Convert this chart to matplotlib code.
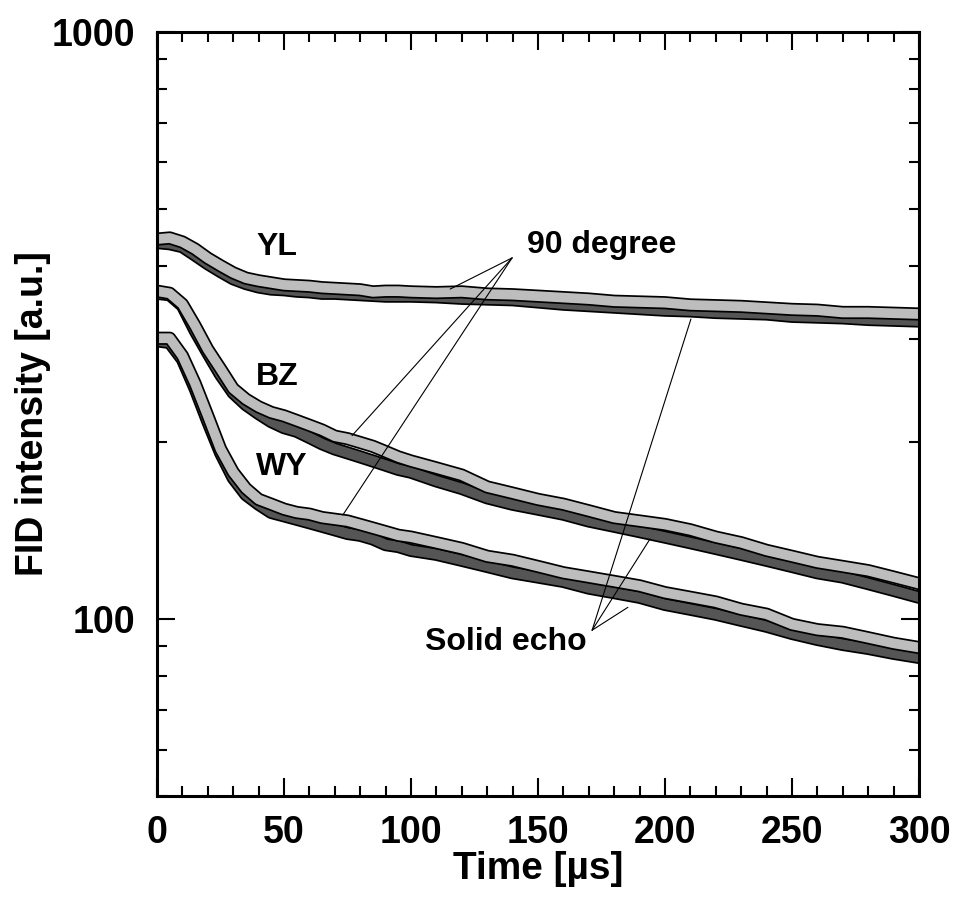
import matplotlib
matplotlib.use("Agg")
import matplotlib.pyplot as plt
import matplotlib.patheffects as pe
from matplotlib.ticker import FixedLocator, NullFormatter, LogLocator

plt.rcParams['font.family'] = ['Liberation Sans', 'DejaVu Sans']
plt.rcParams['font.weight'] = 'bold'

# Time axis (µs)
time_us = [0, 5, 10, 15, 20, 25, 30, 35, 40, 45, 50, 55, 60, 65, 70, 75, 80, 85, 90, 95, 100,
           110, 120, 130, 140, 150, 160, 170, 180, 190, 200, 210, 220, 230, 240, 250,
           260, 270, 280, 290, 300]

# FID intensity [a.u.] – 90 degree pulse
yl_90 = [444, 446, 439, 427, 412, 400, 389, 381, 377, 374, 371, 370, 369, 367, 366, 365, 364, 361, 362, 362, 361,
         360, 361, 358, 357, 355, 353, 351, 348, 347, 346, 343, 342, 341, 339, 337,
         336, 333, 333, 332, 331]
bz_90 = [362, 359, 344, 316, 288, 267, 247, 237, 230, 225, 222, 218, 214, 210, 205, 203, 200, 197, 193, 189, 186,
         181, 176, 168, 164, 160, 157, 153, 149, 147, 145, 142, 138, 135, 131, 128,
         125, 123, 121, 118, 115]
wy_90 = [301, 301, 281, 252, 222, 195, 178, 167, 160, 157, 154, 152, 151, 149, 148, 147, 145, 143, 141, 139, 138,
         135, 132, 128, 126, 123, 120, 118, 116, 114, 111, 109, 107, 104, 102, 98,
         96, 95, 93, 91, 89.5]

# FID intensity [a.u.] – solid echo
yl_se = [438, 436, 431, 417, 403, 391, 380, 373, 368, 365, 364, 362, 361, 359, 359, 358, 357, 356, 355, 355, 355,
         354, 352, 351, 350, 347, 344, 342, 340, 338, 336, 335, 333, 332, 331, 328,
         327, 326, 324, 323, 322]
bz_se = [359, 357, 342, 310, 284, 261, 243, 232, 224, 217, 212, 209, 204, 199, 195, 192, 189, 186, 183, 180, 178,
         172, 167, 161, 157, 154, 151, 147, 144, 141, 138, 135, 132, 129, 126, 123,
         120, 118, 115, 112, 109]
wy_se = [298, 296, 277, 247, 217, 192, 174, 163, 157, 152, 150, 148, 146, 144, 142, 140, 139, 137, 134, 133, 131,
         129, 126, 123, 120, 118, 116, 113, 111, 109, 106, 104, 102, 99.6, 97.3, 94.6,
         92.4, 90.6, 89.2, 87.5, 86.1]

light_gray = '#bdbdbd'
dark_gray = '#555555'

fig = plt.figure(figsize=(9.54, 9.05), dpi=100)
ax = fig.add_axes([0.1646, 0.1204, 0.7987, 0.8442])


def band(values, color):
    ax.plot(time_us, values, color=color, lw=7.0, solid_joinstyle='round',
            solid_capstyle='round', zorder=2,
            path_effects=[pe.Stroke(linewidth=9.5, foreground='black'), pe.Normal()])


for light, dark in [(yl_90, yl_se), (bz_90, bz_se), (wy_90, wy_se)]:
    band(dark, dark_gray)
    band(light, light_gray)

ax.set_yscale('log')
ax.set_xlim(0, 300)
ax.set_ylim(50, 1000)

ax.xaxis.set_major_locator(FixedLocator([0, 50, 100, 150, 200, 250, 300]))
ax.xaxis.set_minor_locator(FixedLocator([v for v in range(0, 301, 10) if v % 50]))
ax.yaxis.set_major_locator(FixedLocator([100, 1000]))
ax.yaxis.set_minor_locator(LogLocator(base=10, subs=range(2, 10)))
ax.yaxis.set_minor_formatter(NullFormatter())
ax.set_yticklabels(['100', '1000'])

ax.tick_params(which='both', direction='in', top=True, right=True, width=1.5)
ax.tick_params(which='major', length=13, labelsize=27)
ax.tick_params(axis='x', which='major', pad=14)
ax.tick_params(axis='y', which='major', pad=16)
ax.tick_params(which='minor', length=7.5)
for s in ax.spines.values():
    s.set_linewidth(2.2)

ax.set_xlabel('Time [µs]', fontsize=28, fontweight='bold')
ax.set_ylabel('FID intensity [a.u.]', fontsize=27, fontweight='bold')
ax.xaxis.set_label_coords(0.5, -0.108)
ax.xaxis.label.set_va('baseline')
ax.yaxis.set_label_coords(-0.139, 0.5)

label_kw = dict(transform=ax.transAxes, fontsize=23, fontweight='bold', va='baseline')
ax.text(0.1575, 0.708, 'YL', ha='center', **label_kw)
ax.text(0.1575, 0.538, 'BZ', ha='center', **label_kw)
ax.text(0.164, 0.420, 'WY', ha='center', **label_kw)
ax.text(0.4856, 0.7107, '90 degree', ha='left', **label_kw)
ax.text(0.3517, 0.1911, 'Solid echo', ha='left', **label_kw)

line_kw = dict(arrowprops=dict(arrowstyle='-', color='black', lw=0.8, shrinkA=0, shrinkB=0))
for target in [(115.4, 365), (76.8, 205.5), (73.2, 150.6)]:
    ax.annotate('', xy=target, xytext=(139.8, 412.5), **line_kw)
for target in [(210.2, 324.5), (194.1, 137.0), (185.4, 104.8)]:
    ax.annotate('', xy=target, xytext=(171.3, 95.8), **line_kw)

fig.savefig('out.png', dpi=100)
